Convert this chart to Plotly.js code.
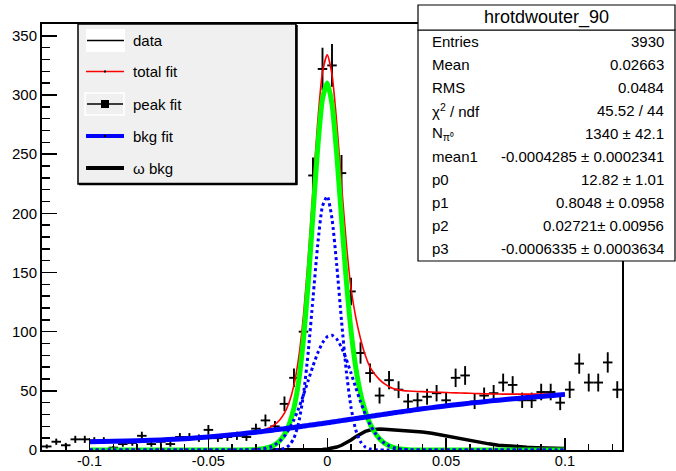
<!DOCTYPE html>
<html><head><meta charset="utf-8">
<script src="https://cdn.plot.ly/plotly-3.0.1.min.js"></script>
<style>body{margin:0;padding:0;background:#fff}#chart{width:676px;height:471px}</style>
</head><body><div id="chart"></div>
<script>
// ---- histogram data (bin centers, counts) ----
const binCenters = [-0.118,-0.114,-0.110,-0.106,-0.102,-0.098,-0.094,-0.090,-0.086,-0.082,
 -0.078,-0.074,-0.070,-0.066,-0.062,-0.058,-0.054,-0.050,-0.046,-0.042,
 -0.038,-0.034,-0.030,-0.026,-0.022,-0.018,-0.014,-0.010,-0.006,-0.002,
 0.002,0.006,0.010,0.014,0.018,0.022,0.026,0.030,0.034,0.038,
 0.042,0.046,0.050,0.054,0.058,0.062,0.066,0.070,0.074,0.078,
 0.082,0.086,0.090,0.094,0.098,0.102,0.106,0.110,0.114,0.118,0.122];
const counts = [3,7,4,9,9,8,8,2,5,6,
 12,5,7,5,11,11,10,17,10,11,
 12,11,18,25,20,39,61,100,232,322,
 325,234,134,82,65,46,59,51,41,42,
 45,48,42,61,63,41,46,48,57,55,
 42,42,49,49,40,51,73,57,57,74,51];

const curveX = [-0.100,-0.090,-0.080,-0.070,-0.060,-0.050,-0.040,-0.035,
 -0.030,-0.028,-0.026,-0.024,-0.022,-0.020,-0.018,-0.016,-0.014,-0.012,
 -0.010,-0.008,-0.006,-0.004,-0.002,0.000,0.002,0.004,0.006,0.008,
 0.010,0.012,0.014,0.016,0.018,0.020,0.022,0.024,0.026,0.028,
 0.030,0.032,0.034,0.036,
 0.040,0.044,0.048,0.052,0.056,0.060,0.064,0.068,0.072,0.076,0.080,0.084,0.088,0.092,0.096,0.100];
const totalFit = [7.0,7.3,7.8,8.5,9.5,11.0,12.8,13.9,
 15.4,16.3,17.5,19.1,21.6,25.4,31.1,40.3,54.8,78.2,
 113.7,162.5,220.5,277.6,319.5,334.0,317.5,276.5,224.7,175.2,
 136.5,112,94,80,70,64,59.5,56,53.5,51.8,
 50.8,50.2,49.8,49.6,
 49.3,49.0,48.7,48.4,48.2,47.9,47.6,47.4,47.3,47.2,47.2,47.2,47.2,47.2,47.3,47.4];
const peakFit = [0,0,0,0,0,0,0,0,
 0.4,0.8,1.5,2.6,4.6,7.9,13.1,21.7,35.7,58.5,
 93.5,141.6,199.1,255.5,296.7,310.2,292.4,249.8,195.9,143.8,
 101.0,69.6,47.8,32.8,22.3,14.8,9.5,5.9,3.5,2.0,
 1.1,0.6,0.3,0.1,
 0,0,0,0,0,0,0,0,0,0,0,0,0,0,0,0];
const peakNarrow = [0,0,0,0,0,0,0,0,
 0,0,0,0,0.1,0.4,1.3,3.9,10.1,23.2,
 46.9,82.8,128.1,173.5,206.1,214.4,195.5,156.1,109.2,67.0,
 36.0,16.9,7.0,2.5,0.8,0.2,0,0,0,0,
 0,0,0,0,
 0,0,0,0,0,0,0,0,0,0,0,0,0,0,0,0];
const peakWide = [0,0,0,0,0,0,0,0,
 0.4,0.8,1.5,2.6,4.5,7.5,11.8,17.8,25.6,35.3,
 46.6,58.8,71.0,82.0,90.6,95.8,96.9,93.7,86.7,76.8,
 65.0,52.7,40.8,30.3,21.5,14.6,9.5,5.9,3.5,2.0,
 1.1,0.6,0.3,0.1,
 0,0,0,0,0,0,0,0,0,0,0,0,0,0,0,0];
const bkgFit = [7.0,7.3,7.8,8.5,9.5,11.0,12.8,13.9,
 15.0,15.5,16.0,16.5,17.0,17.5,18.0,18.6,19.1,19.7,
 20.2,20.8,21.3,21.9,22.4,23.0,23.6,24.2,24.8,25.4,
 26.0,26.6,27.2,27.8,28.4,29.0,29.6,30.2,30.8,31.4,
 32.0,32.6,33.1,33.7,
 34.8,35.8,36.8,37.8,38.7,39.6,40.4,41.3,42.1,42.9,43.6,44.3,45.0,45.6,46.3,47.0];
const omegaBkg = [0,0,0,0,0,0,0,0,
 0,0,0,0,0,0,0,0,0,0,
 0,0.05,0.1,0.2,0.4,0.8,1.5,2.5,4.0,6.0,
 8.5,11.3,13.8,15.7,16.9,17.5,17.7,17.6,17.4,17.1,
 16.8,16.5,16.2,15.9,
 15.3,14.2,12.6,11.0,9.4,7.8,6.4,5.2,4.1,3.3,2.7,2.3,2.0,1.7,1.5,1.3];

// ---- text ----
const xTickVals = [-0.1,-0.05,0,0.05,0.1];
const xTickText = ['-0.1','-0.05','0','0.05','0.1'];
const yTickVals = [0,50,100,150,200,250,300,350];
const yTickText = ['0','50','100','150','200','250','300','350'];
const legendLabels = ['data','total fit','peak fit','bkg fit','\u03c9 bkg'];
const statsTitle = 'hrotdwouter_90';
const statsLabels = ['Entries','Mean','RMS','\u03c7<sup>2</sup> / ndf','N<sub>\u03c0\u2070</sub>','mean1','p0','p1','p2','p3'];
const statsValues = ['3930','0.02663','0.0484','45.52 / 44','1340 \u00b1 42.1','-0.0004285 \u00b1 0.0002341',
 '12.82 \u00b1 1.01','0.8048 \u00b1 0.0958','0.02721\u00b1 0.00956','-0.0006335 \u00b1 0.0003634'];

// ---- geometry helpers (pixel -> paper) ----
const L = 42, R = 622, T = 24, B = 450;
const px = x => (x - L) / (R - L);
const py = y => (B - y) / (B - T);
const FONT = 'Liberation Sans, Arial, sans-serif';

const traces = [
  {x: binCenters, y: counts, type: 'scatter', mode: 'markers',
   marker: {size: 2, color: 'black'},
   error_x: {type: 'constant', value: 0.002, width: 0, thickness: 1.9, color: 'black'},
   error_y: {type: 'sqrt', width: 0, thickness: 1.9, color: 'black'}, hoverinfo: 'skip'},
  {x: curveX, y: omegaBkg, type: 'scatter', mode: 'lines', line: {color: 'black', width: 3.5}},
  {x: curveX, y: totalFit, type: 'scatter', mode: 'lines', line: {color: '#ff0000', width: 1.6, shape: 'spline', smoothing: 0.6}},
  {x: curveX, y: peakFit, type: 'scatter', mode: 'lines', line: {color: '#00ff00', width: 5, shape: 'spline', smoothing: 0.6}},
  {x: curveX, y: peakNarrow, type: 'scatter', mode: 'lines', line: {color: '#0000ff', width: 3, dash: 'dot', shape: 'spline', smoothing: 0.6}},
  {x: curveX, y: peakWide, type: 'scatter', mode: 'lines', line: {color: '#0000ff', width: 3, dash: 'dot', shape: 'spline', smoothing: 0.6}},
  {x: curveX, y: bkgFit, type: 'scatter', mode: 'lines', line: {color: '#0000ff', width: 5, shape: 'spline'}}
];

const shapes = [];
const annotations = [];
// legend box
shapes.push({type:'rect', xref:'paper', yref:'paper', x0:px(78), x1:px(296), y0:py(184), y1:py(24),
  fillcolor:'#f0f0f0', line:{color:'black', width:1.5}, layer:'above'});
shapes.push({type:'line', xref:'paper', yref:'paper', x0:px(79), x1:px(297), y0:py(184), y1:py(184), line:{color:'black', width:2.5}, layer:'above'});
shapes.push({type:'line', xref:'paper', yref:'paper', x0:px(296.5), x1:px(296.5), y0:py(25), y1:py(185), line:{color:'black', width:2.5}, layer:'above'});
const rowY = [40.5, 71.5, 104, 136, 168];
// data sample
shapes.push({type:'rect', xref:'paper', yref:'paper', x0:px(86), x1:px(125), y0:py(52), y1:py(29), fillcolor:'white', line:{width:0}, layer:'above'});
shapes.push({type:'line', xref:'paper', yref:'paper', x0:px(87), x1:px(124), y0:py(rowY[0]), y1:py(rowY[0]), line:{color:'black', width:1.5}, layer:'above'});
// total fit sample
shapes.push({type:'line', xref:'paper', yref:'paper', x0:px(86), x1:px(124), y0:py(rowY[1]), y1:py(rowY[1]), line:{color:'#ff0000', width:1.6}, layer:'above'});
shapes.push({type:'rect', xref:'paper', yref:'paper', x0:px(104), x1:px(106), y0:py(rowY[1]+1), y1:py(rowY[1]-1), fillcolor:'black', line:{width:0}, layer:'above'});
// peak fit sample
shapes.push({type:'rect', xref:'paper', yref:'paper', x0:px(85), x1:px(124), y0:py(115), y1:py(93), line:{color:'white', width:1.5}, layer:'above'});
shapes.push({type:'line', xref:'paper', yref:'paper', x0:px(87), x1:px(123), y0:py(rowY[2]), y1:py(rowY[2]), line:{color:'black', width:1.5}, layer:'above'});
shapes.push({type:'rect', xref:'paper', yref:'paper', x0:px(101), x1:px(109), y0:py(rowY[2]+4), y1:py(rowY[2]-4), fillcolor:'black', line:{width:0}, layer:'above'});
// bkg fit sample
shapes.push({type:'line', xref:'paper', yref:'paper', x0:px(86), x1:px(124), y0:py(rowY[3]), y1:py(rowY[3]), line:{color:'#0000ff', width:4}, layer:'above'});
shapes.push({type:'rect', xref:'paper', yref:'paper', x0:px(104), x1:px(106), y0:py(rowY[3]+1), y1:py(rowY[3]-1), fillcolor:'black', line:{width:0}, layer:'above'});
// omega bkg sample
shapes.push({type:'line', xref:'paper', yref:'paper', x0:px(86), x1:px(124), y0:py(rowY[4]), y1:py(rowY[4]), line:{color:'black', width:4}, layer:'above'});
legendLabels.forEach((t, i) => {
  annotations.push({xref:'paper', yref:'paper', x:px(131), y:py(rowY[i]), xanchor:'left', yanchor:'middle',
    text:t, showarrow:false, font:{family:FONT, size:15, color:'black'}});
});

// stats box
shapes.push({type:'rect', xref:'paper', yref:'paper', x0:px(418), x1:px(675), y0:py(261), y1:py(30),
  fillcolor:'white', line:{color:'black', width:1.2}, layer:'above'});
shapes.push({type:'rect', xref:'paper', yref:'paper', x0:px(418), x1:px(675), y0:py(30), y1:py(5),
  fillcolor:'white', line:{color:'black', width:1.2}, layer:'above'});
annotations.push({xref:'paper', yref:'paper', x:px(546.5), y:py(17.5), xanchor:'center', yanchor:'middle',
  text:statsTitle, showarrow:false, font:{family:FONT, size:18, color:'black'}});
const statY = [41.7, 64.5, 87.3, 110, 133, 156.5, 180, 203, 226, 248.5];
statsLabels.forEach((t, i) => {
  annotations.push({xref:'paper', yref:'paper', x:px(430), y:py(statY[i]), xanchor:'left', yanchor:'middle',
    text:t, showarrow:false, font:{family:FONT, size:15, color:'black'}});
  annotations.push({xref:'paper', yref:'paper', x:px(666), y:py(statY[i]), xanchor:'right', yanchor:'middle',
    text:statsValues[i], showarrow:false, font:{family:FONT, size:15, color:'black'}});
});

const layout = {
  width: 676, height: 471, autosize: false,
  margin: {l: L, r: 676 - R, t: T, b: 471 - B, pad: 0},
  paper_bgcolor: 'white', plot_bgcolor: 'white', showlegend: false,
  font: {family: FONT, size: 15, color: 'black'},
  xaxis: {range: [-0.12, 0.124], tickmode: 'array', tickvals: xTickVals, ticktext: xTickText,
    ticks: 'inside', ticklen: 12, tickwidth: 1.5, tickcolor: 'black', ticklabelstandoff: -3,
    minor: {tickmode: 'linear', tick0: 0, dtick: 0.01, ticks: 'inside', ticklen: 6, tickwidth: 1.5, tickcolor: 'black'},
    showline: true, linewidth: 2, linecolor: 'black', mirror: true, showgrid: false, zeroline: false,
    tickfont: {family: FONT, size: 14.5, color: 'black'}},
  yaxis: {range: [0, 360], tickmode: 'array', tickvals: yTickVals, ticktext: yTickText,
    ticks: 'inside', ticklen: 15, tickwidth: 1.5, tickcolor: 'black',
    minor: {tickmode: 'linear', tick0: 0, dtick: 10, ticks: 'inside', ticklen: 8, tickwidth: 1.5, tickcolor: 'black'},
    showline: true, linewidth: 2, linecolor: 'black', mirror: true, showgrid: false, zeroline: false,
    tickfont: {family: FONT, size: 15, color: 'black'}},
  shapes: shapes, annotations: annotations
};
Plotly.newPlot('chart', traces, layout, {displayModeBar: false, staticPlot: true});
</script></body></html>
